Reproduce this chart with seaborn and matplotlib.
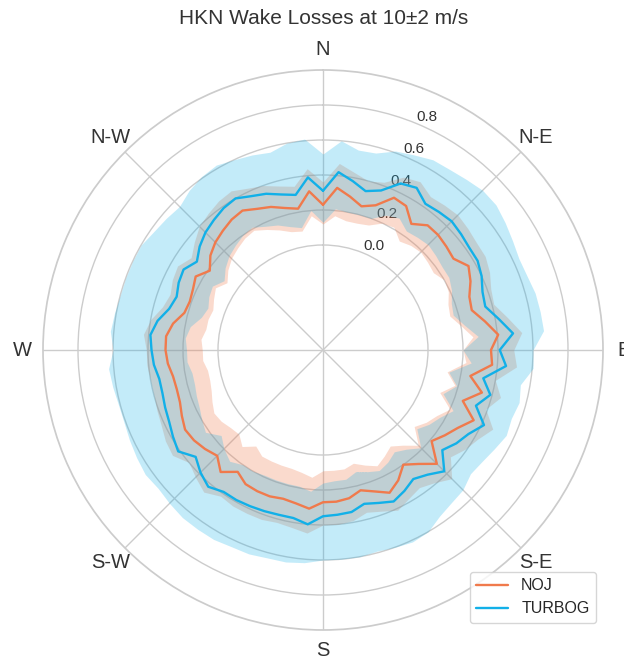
import numpy as np
import pandas as pd
import matplotlib
matplotlib.use("Agg")
import matplotlib.pyplot as plt
import seaborn as sns

# Wind direction bins (degrees, clockwise from north)
directions_deg = list(range(0, 360, 5))

# TURBOG wake loss: mean and band limits per direction bin
turbog_mean = [0.31, 0.42, 0.38, 0.34, 0.37, 0.45, 0.47, 0.42, 0.43, 0.44, 0.43, 0.42,
               0.42, 0.40, 0.37, 0.36, 0.42, 0.49, 0.41, 0.45, 0.33, 0.39, 0.33, 0.415,
               0.36, 0.33, 0.29, 0.38, 0.33, 0.30, 0.33, 0.355, 0.33, 0.31, 0.34, 0.345,
               0.35, 0.40, 0.375, 0.375, 0.38, 0.385, 0.39, 0.39, 0.42, 0.39, 0.35, 0.41,
               0.39, 0.37, 0.36, 0.35, 0.35, 0.37, 0.38, 0.39, 0.36, 0.31, 0.29, 0.31,
               0.32, 0.28, 0.32, 0.35, 0.37, 0.39, 0.40, 0.37, 0.35, 0.32, 0.30, 0.39]
turbog_hi = [0.52, 0.60, 0.56, 0.565, 0.61, 0.63, 0.655, 0.66, 0.673, 0.69, 0.69, 0.67,
             0.65, 0.635, 0.64, 0.655, 0.66, 0.665, 0.60, 0.605, 0.545, 0.56, 0.545, 0.555,
             0.53, 0.51, 0.50, 0.53, 0.54, 0.56, 0.60, 0.61, 0.60, 0.59, 0.60, 0.60,
             0.60, 0.62, 0.63, 0.63, 0.64, 0.64, 0.65, 0.65, 0.65, 0.64, 0.63, 0.64,
             0.63, 0.62, 0.61, 0.61, 0.62, 0.63, 0.60, 0.62, 0.61, 0.60, 0.60, 0.60,
             0.60, 0.58, 0.57, 0.56, 0.59, 0.61, 0.62, 0.60, 0.586, 0.57, 0.60, 0.61]
turbog_lo = [0.13, 0.21, 0.20, 0.20, 0.20, 0.25, 0.27, 0.23, 0.24, 0.25, 0.24, 0.23,
             0.23, 0.21, 0.18, 0.17, 0.22, 0.29, 0.20, 0.25, 0.13, 0.19, 0.13, 0.22,
             0.17, 0.14, 0.10, 0.19, 0.14, 0.11, 0.14, 0.16, 0.14, 0.12, 0.15, 0.15,
             0.16, 0.21, 0.19, 0.19, 0.19, 0.19, 0.20, 0.20, 0.23, 0.20, 0.16, 0.22,
             0.20, 0.18, 0.17, 0.16, 0.16, 0.18, 0.18, 0.19, 0.17, 0.12, 0.10, 0.12,
             0.13, 0.09, 0.13, 0.16, 0.18, 0.20, 0.21, 0.18, 0.16, 0.13, 0.11, 0.20]

# NOJ wake loss: mean and band limits per direction bin
noj_mean = [0.23, 0.33, 0.29, 0.25, 0.28, 0.36, 0.35, 0.28, 0.33, 0.33, 0.32, 0.31,
            0.36, 0.33, 0.29, 0.28, 0.34, 0.405, 0.36, 0.37, 0.255, 0.34, 0.25, 0.35,
            0.29, 0.25, 0.21, 0.32, 0.25, 0.20, 0.26, 0.30, 0.26, 0.23, 0.26, 0.27,
            0.27, 0.31, 0.29, 0.28, 0.29, 0.29, 0.285, 0.25, 0.31, 0.255, 0.28, 0.30,
            0.31, 0.29, 0.27, 0.265, 0.27, 0.29, 0.30, 0.30, 0.27, 0.22, 0.21, 0.22,
            0.24, 0.19, 0.24, 0.27, 0.29, 0.31, 0.32, 0.29, 0.27, 0.24, 0.22, 0.31]
noj_hi = [0.36, 0.47, 0.43, 0.40, 0.42, 0.49, 0.51, 0.47, 0.48, 0.49, 0.48, 0.47,
          0.47, 0.45, 0.42, 0.41, 0.47, 0.54, 0.49, 0.51, 0.40, 0.45, 0.39, 0.47,
          0.42, 0.39, 0.35, 0.44, 0.39, 0.36, 0.38, 0.41, 0.38, 0.36, 0.39, 0.40,
          0.40, 0.45, 0.43, 0.42, 0.43, 0.43, 0.43, 0.42, 0.46, 0.43, 0.40, 0.45,
          0.44, 0.42, 0.41, 0.40, 0.40, 0.41, 0.41, 0.43, 0.40, 0.35, 0.33, 0.35,
          0.36, 0.32, 0.36, 0.40, 0.42, 0.44, 0.45, 0.42, 0.40, 0.37, 0.35, 0.44]
noj_lo = [0.12, 0.17, 0.15, 0.15, 0.16, 0.20, 0.21, 0.16, 0.18, 0.19, 0.18, 0.17,
          0.20, 0.19, 0.16, 0.15, 0.20, 0.26, 0.20, 0.22, 0.12, 0.18, 0.11, 0.20,
          0.15, 0.12, 0.08, 0.17, 0.11, 0.07, 0.10, 0.13, 0.10, 0.07, 0.09, 0.09,
          0.09, 0.13, 0.11, 0.10, 0.10, 0.10, 0.10, 0.07, 0.12, 0.08, 0.09, 0.11,
          0.12, 0.10, 0.08, 0.07, 0.07, 0.09, 0.09, 0.10, 0.08, 0.08, 0.07, 0.09,
          0.11, 0.07, 0.11, 0.14, 0.16, 0.18, 0.19, 0.16, 0.13, 0.10, 0.09, 0.17]

compass_labels = ["N", "N-E", "E", "S-E", "S", "S-W", "W", "N-W"]
radial_ticks = [0.0, 0.2, 0.4, 0.6, 0.8]
model_names = ["NOJ", "TURBOG"]
model_colors = {"NOJ": "#F07A4C", "TURBOG": "#12B0E8"}

sns.set_theme(style="whitegrid")
plt.rcParams["font.family"] = ["Liberation Sans", "DejaVu Sans"]


def closed(values, wrap=None):
    """Repeat the first bin at the end so the polar curves close."""
    vals = list(values)
    return np.array(vals + [vals[0] if wrap is None else wrap], dtype=float)


theta = np.deg2rad(closed(directions_deg, wrap=360))

series = {
    "NOJ": (noj_mean, noj_lo, noj_hi),
    "TURBOG": (turbog_mean, turbog_lo, turbog_hi),
}

frames = []
for name in model_names:
    frames.append(pd.DataFrame({"theta": theta,
                                "loss": closed(series[name][0]),
                                "model": name}))
df = pd.concat(frames, ignore_index=True)

fig = plt.figure(figsize=(6.24, 6.59), dpi=100)
ax = fig.add_axes([43 / 624, 29 / 659, 560 / 624, 560 / 659], projection="polar")
ax.set_theta_zero_location("N")
ax.set_theta_direction(-1)

# spread bands first, TURBOG drawn over NOJ
band_alpha = {"NOJ": 0.28, "TURBOG": 0.25}
for name in model_names:
    _, lo, hi = series[name]
    ax.fill_between(theta, closed(lo), closed(hi), color=model_colors[name],
                    alpha=band_alpha[name], linewidth=0, zorder=2)

sns.lineplot(data=df, x="theta", y="loss", hue="model", hue_order=model_names,
             palette=model_colors, sort=False, estimator=None, linewidth=1.7,
             ax=ax, zorder=3)

ax.set_ylim(-0.6, 1.0)
ax.set_yticks(radial_ticks)
ax.set_yticklabels([f"{t:.1f}" for t in radial_ticks], fontsize=11, color="#333333")
ax.set_rlabel_position(22.5)
ax.set_xticks(np.deg2rad(np.arange(0, 360, 45)))
ax.set_xticklabels(compass_labels, fontsize=14.5, color="#333333")
ax.tick_params(axis="x", pad=2)
ax.set_xlabel("")
ax.set_ylabel("")

handles, labels = ax.get_legend_handles_labels()
ax.legend(handles, labels, loc="lower right", bbox_to_anchor=(0.955, 0.055),
          bbox_transform=fig.transFigure, borderaxespad=0, fontsize=11.5,
          frameon=True)

fig.text(0.519, 1 - 18 / 659, "HKN Wake Losses at 10\u00b12 m/s",
         ha="center", va="center", fontsize=15, color="#333333")

fig.savefig("out.png", dpi=100)
